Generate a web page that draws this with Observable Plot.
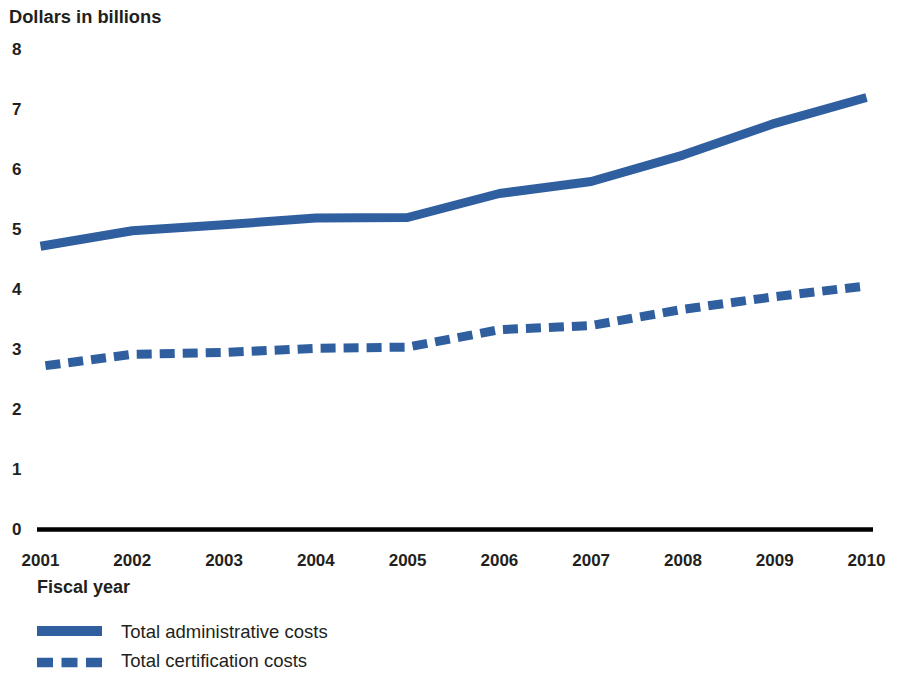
<!DOCTYPE html>
<html><head><meta charset="utf-8">
<script src="https://cdn.jsdelivr.net/npm/d3@7"></script>
<script src="https://cdn.jsdelivr.net/npm/@observablehq/plot@0.6"></script>
<style>
body{margin:0;background:#fff;font-family:"Liberation Sans",Arial,sans-serif;color:#231f20}
#wrap{position:relative;width:900px;height:673px;overflow:hidden}
.t{position:absolute;white-space:nowrap;line-height:18px;font-size:18px}
#title{left:9px;top:8px;font-weight:bold;font-size:18.3px}
#chart{position:absolute;left:0;top:30px}
#xlabel{left:37px;top:578px;font-weight:bold}
#leg1{left:121px;top:623px;font-size:18.5px}
#leg2{left:121px;top:652px;font-size:18.5px}
#sw{position:absolute;left:0;top:600px}
</style></head>
<body>
<div id="wrap">
  <div class="t" id="title">Dollars in billions</div>
  <div id="chart"></div>
  <div class="t" id="xlabel">Fiscal year</div>
  <svg id="sw" width="120" height="73"></svg>
  <div class="t" id="leg1">Total administrative costs</div>
  <div class="t" id="leg2">Total certification costs</div>
</div>
<script>
const years = [2001, 2002, 2003, 2004, 2005, 2006, 2007, 2008, 2009, 2010];
const adminCosts = [4.72, 4.98, 5.08, 5.19, 5.2, 5.6, 5.8, 6.24, 6.77, 7.2];
const certCosts = [2.72, 2.92, 2.95, 3.02, 3.04, 3.33, 3.4, 3.67, 3.88, 4.06];
const yTicks = [0, 1, 2, 3, 4, 5, 6, 7, 8];
const seriesNames = ["Total administrative costs", "Total certification costs"];

const blue = "#2f5f9f";
const adminRows = years.map((y, i) => ({year: y, value: adminCosts[i], series: seriesNames[0]}));
const certRows = years.map((y, i) => ({year: y, value: certCosts[i], series: seriesNames[1]}));

const chart = Plot.plot({
  width: 900,
  height: 545,
  marginLeft: 40,
  marginRight: 34,
  marginTop: 19,
  marginBottom: 46,
  x: {domain: [2001, 2010]},
  y: {domain: [0, 8]},
  style: {fontFamily: "'Liberation Sans', Arial, sans-serif", fontSize: "17px", fontWeight: "bold", color: "#231f20", background: "#fff"},
  marks: [
    Plot.axisX({ticks: years, tickFormat: d => String(d), tickSize: 0, tickPadding: 24, label: null}),
    Plot.axisY({ticks: yTicks, tickSize: 0, tickPadding: 19, label: null}),
    Plot.ruleY([0], {stroke: "#000", strokeWidth: 4.5, insetLeft: -3, insetRight: -7}),
    Plot.line(adminRows, {x: "year", y: "value", stroke: blue, strokeWidth: 9, strokeLinecap: "butt", strokeLinejoin: "round"}),
    Plot.line(certRows, {x: "year", y: "value", stroke: blue, strokeWidth: 9, strokeLinecap: "butt", strokeLinejoin: "miter", strokeDasharray: "15,8", strokeDashoffset: 18})
  ]
});
document.getElementById("chart").appendChild(chart);

// legend swatches
const sw = d3.select("#sw");
sw.append("line").attr("x1", 37).attr("x2", 102).attr("y1", 31).attr("y2", 31)
  .attr("stroke", blue).attr("stroke-width", 10);
sw.append("line").attr("x1", 37).attr("x2", 102).attr("y1", 62.5).attr("y2", 62.5)
  .attr("stroke", blue).attr("stroke-width", 9.5).attr("stroke-dasharray", "16,8.5");
</script>
</body></html>
